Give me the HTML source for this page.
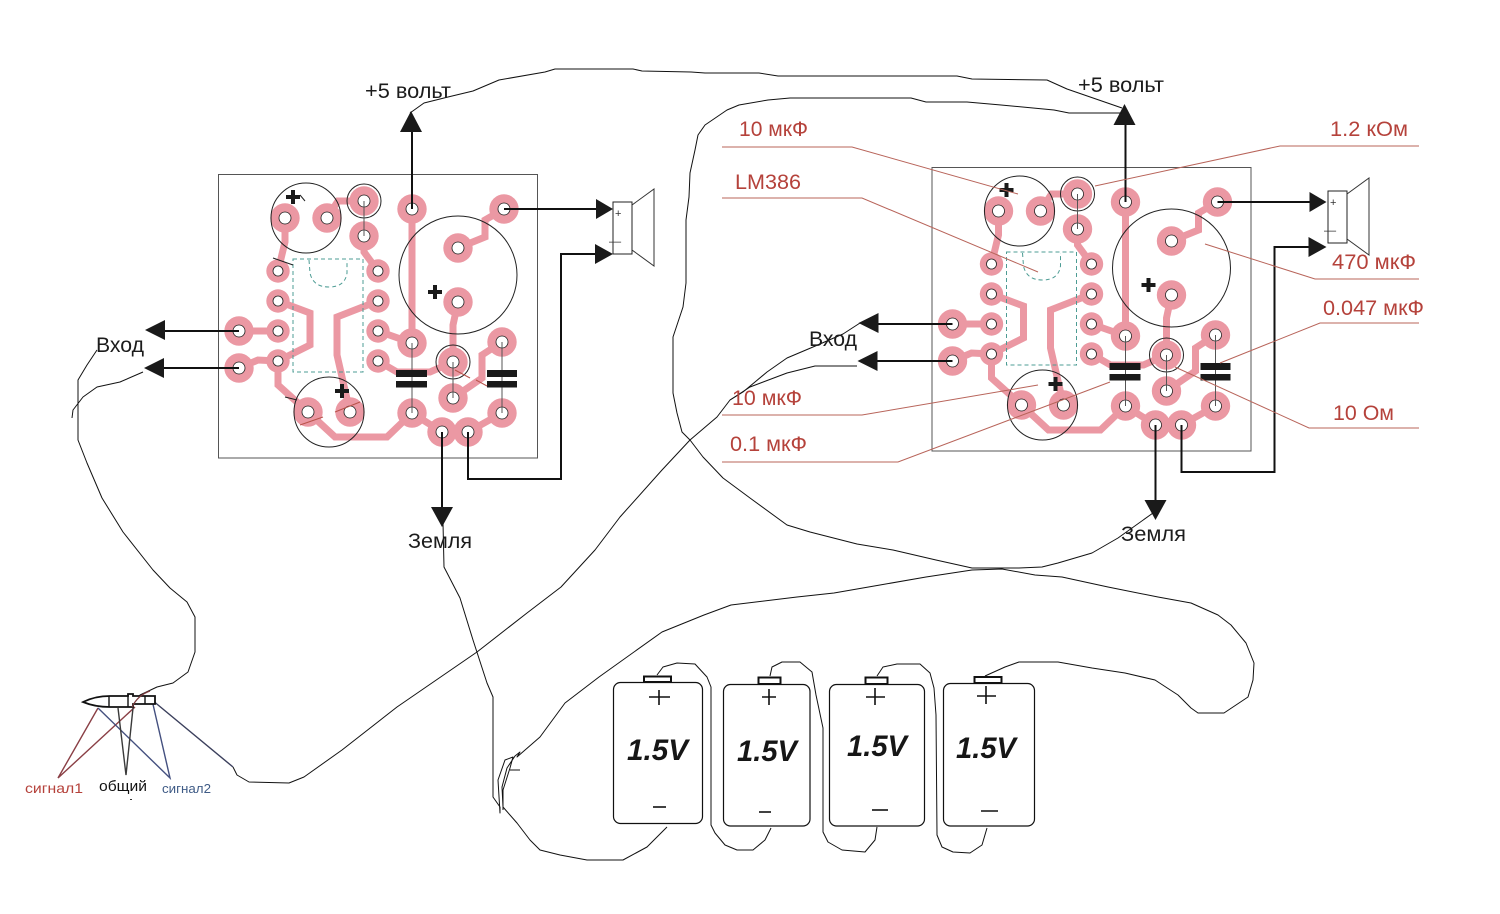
<!DOCTYPE html>
<html><head><meta charset="utf-8"><style>
html,body{margin:0;padding:0;background:#fff;width:1500px;height:914px;overflow:hidden}
svg{display:block}
text{font-family:"Liberation Sans",sans-serif}
.w{fill:none;stroke:#111;stroke-width:1;stroke-linejoin:round}
.l{fill:none;stroke:#b8645a;stroke-width:1}
.r{fill:#b5423b;font-size:21px}
.k{fill:#1c1c1c;font-size:21px}
.v{fill:#161616;font-size:30px;font-weight:bold;font-style:italic}
.bt{fill:#fff;stroke:#111;stroke-width:1.2}
.tm{fill:#fff;stroke:#111;stroke-width:2}
</style></head><body>
<svg xmlns="http://www.w3.org/2000/svg" width="1500" height="914" viewBox="0 0 1500 914">
<rect width="1500" height="914" fill="#fff"/>
<defs>
<g id="b">
<rect x="218.5" y="174.5" width="319" height="283.5" fill="none" stroke="#555" stroke-width="1"/>
<g fill="none" stroke="#eb98a3" stroke-width="7" stroke-linejoin="miter">
<polyline points="285,218 285,242 278,271"/>
<polyline points="327,218 338,201 364,201"/>
<polyline points="364,236 364,252 378,271"/>
<polyline points="412,209 412,343"/>
<polyline points="378,331 412,343"/>
<polyline points="378,361 397,372 430,372 453,362"/>
<polyline points="504,209 485,220 485,237 458,248"/>
<polyline points="458,302 453,325 453,362"/>
<polyline points="453,398 482,378 482,355 502,342"/>
<polyline points="278,301 310,313 310,345 278,361"/>
<polyline points="239,331 278,331"/>
<polyline points="239,368 258,360 278,361"/>
<polyline points="278,361 278,385 308,412"/>
<polyline points="308,412 335,437 387,437 412,413"/>
<polyline points="412,413 442,432 468,432 502,413"/>
<polyline points="378,301 337,317 337,355 350,412"/>
</g>
<g fill="#eb98a3">
<circle cx="285" cy="218" r="14.7"/><circle cx="327" cy="218" r="14.7"/><circle cx="364" cy="201" r="14.7"/><circle cx="364" cy="236" r="14.7"/>
<circle cx="412" cy="209" r="14.7"/><circle cx="504" cy="209" r="14.7"/><circle cx="458" cy="248" r="14.7"/><circle cx="458" cy="302" r="14.7"/>
<circle cx="239" cy="331" r="14.7"/><circle cx="239" cy="368" r="14.7"/><circle cx="412" cy="343" r="14.7"/><circle cx="502" cy="342" r="14.7"/>
<circle cx="453" cy="362" r="14.7"/><circle cx="453" cy="398" r="14.7"/><circle cx="308" cy="412" r="14.7"/><circle cx="350" cy="412" r="14.7"/>
<circle cx="412" cy="413" r="14.7"/><circle cx="502" cy="413" r="14.7"/><circle cx="442" cy="432" r="14.7"/><circle cx="468" cy="432" r="14.7"/>
<circle cx="278" cy="271" r="11.7"/><circle cx="278" cy="301" r="11.7"/><circle cx="278" cy="331" r="11.7"/><circle cx="278" cy="361" r="11.7"/>
<circle cx="378" cy="271" r="11.7"/><circle cx="378" cy="301" r="11.7"/><circle cx="378" cy="331" r="11.7"/><circle cx="378" cy="361" r="11.7"/>
</g>
<g fill="#fff" stroke="#222" stroke-width="0.8">
<circle cx="285" cy="218" r="6"/><circle cx="327" cy="218" r="6"/><circle cx="364" cy="201" r="6"/><circle cx="364" cy="236" r="6"/>
<circle cx="412" cy="209" r="6"/><circle cx="504" cy="209" r="6"/><circle cx="458" cy="248" r="6"/><circle cx="458" cy="302" r="6"/>
<circle cx="239" cy="331" r="6"/><circle cx="239" cy="368" r="6"/><circle cx="412" cy="343" r="6"/><circle cx="502" cy="342" r="6"/>
<circle cx="453" cy="362" r="6"/><circle cx="453" cy="398" r="6"/><circle cx="308" cy="412" r="6"/><circle cx="350" cy="412" r="6"/>
<circle cx="412" cy="413" r="6"/><circle cx="502" cy="413" r="6"/><circle cx="442" cy="432" r="6"/><circle cx="468" cy="432" r="6"/>
<circle cx="278" cy="271" r="5"/><circle cx="278" cy="301" r="5"/><circle cx="278" cy="331" r="5"/><circle cx="278" cy="361" r="5"/>
<circle cx="378" cy="271" r="5"/><circle cx="378" cy="301" r="5"/><circle cx="378" cy="331" r="5"/><circle cx="378" cy="361" r="5"/>
</g>
<g fill="none" stroke="#222" stroke-width="1">
<circle cx="306" cy="218" r="35"/><circle cx="364" cy="201" r="17"/><circle cx="458" cy="275" r="59"/><circle cx="453" cy="362" r="17"/><circle cx="329" cy="412" r="35"/>
</g>
<g fill="none" stroke="#4d9c94" stroke-width="1" stroke-dasharray="4 3">
<rect x="293" y="259" width="70" height="113"/>
<path d="M309,260 L310,273 Q313,287 329,287 Q345,287 347,273 L347,260"/>
</g>
<g stroke="#555" stroke-width="1">
<line x1="364" y1="201" x2="364" y2="236"/><line x1="412" y1="343" x2="412" y2="413"/><line x1="502" y1="342" x2="502" y2="413"/><line x1="453" y1="362" x2="453" y2="398"/>
</g>
<g fill="#1a1a1a">
<rect x="396" y="370" width="31" height="7"/><rect x="396" y="381" width="31" height="6.5"/>
<rect x="487" y="370" width="30" height="7"/><rect x="487" y="381" width="30" height="6.5"/>
<rect x="286" y="195" width="14" height="4"/><rect x="291" y="190" width="4" height="14"/>
<rect x="428" y="290" width="14" height="4"/><rect x="433" y="285" width="4" height="14"/>
<rect x="335" y="389" width="14" height="4"/><rect x="340" y="384" width="4" height="14"/>
</g>
<g fill="none" stroke="#111" stroke-width="2">
<line x1="412" y1="209" x2="412" y2="130"/>
<line x1="504" y1="209" x2="598" y2="209"/>
<polyline points="468,432 468,479 561,479 561,254 597,254"/>
<line x1="442" y1="432" x2="442" y2="510"/>
<line x1="239" y1="331" x2="163" y2="331"/>
<line x1="239" y1="368" x2="163" y2="368"/>
</g>
<g fill="#1a1a1a">
<polygon points="411,111 400,132 422,132"/>
<polygon points="613,209 596,199 596,219"/>
<polygon points="613,254 595,244 595,264"/>
<polygon points="442,527 431,507 453,507"/>
<polygon points="145,330 165,320 165,340"/>
<polygon points="144,368 164,358 164,378"/>
</g>
</g>
<g id="s">
<rect x="613" y="202" width="19" height="52" fill="#fff" stroke="#222" stroke-width="1"/>
<polyline points="632,205 654,189 654,266 632,250" fill="none" stroke="#333" stroke-width="1"/>
<text x="615" y="217" font-size="11" fill="#333">+</text>
<text x="609" y="245" font-size="11" fill="#333">–</text>
<text x="615" y="245" font-size="11" fill="#333">–</text>
</g>
</defs>

<use href="#b"/>
<use href="#b" transform="translate(713.5,-7)"/>
<use href="#s"/>
<use href="#s" transform="translate(715,-11)"/>

<!-- small red marks on left board -->
<g stroke="#b8534a" stroke-width="1" fill="none">
<line x1="300" y1="425" x2="323" y2="417"/><line x1="335" y1="412" x2="360" y2="402"/>
<line x1="476" y1="380" x2="487" y2="386"/><line x1="455" y1="370" x2="470" y2="378"/>
</g>
<g stroke="#222" stroke-width="1" fill="none">
<line x1="273" y1="258" x2="293" y2="265"/><line x1="285" y1="397" x2="297" y2="400"/>
<line x1="300" y1="195" x2="305" y2="201"/>
</g>

<!-- leader lines -->
<polyline class="l" points="722,147 852,147 1018,194"/>
<polyline class="l" points="722,198 862,198 1038,272"/>
<polyline class="l" points="1419,146 1280,146 1095,186"/>
<polyline class="l" points="1205,244 1315,279 1419,279"/>
<polyline class="l" points="1419,323 1320,323 1220,363"/>
<polyline class="l" points="1419,428 1309,428 1175,367"/>
<polyline class="l" points="722,415 862,415 1038,385"/>
<polyline class="l" points="722,462 898,462 1110,382"/>

<!-- wires -->
<polyline class="w" points="410,113 424,103 448,97 473,91 499,80 545,72 555,69 633,69 642,71 691,72 705,73 759,73 778,76 957,76 972,79 1047,80 1067,89 1122,108"/>
<polyline class="w" points="1122,113 1069,113 1054,110 1001,105 967,102 926,102 911,98 790,98 768,100 739,105 727,110 705,125 698,135 695,150 690,173 689,197 686,220 686,283 683,307 673,337 673,393 677,413 682,432 690,440 703,457 723,478 750,498 787,525 810,532 857,544 893,550 936,560 972,568 1019,568 1042,567 1058,563 1092,553 1118,538 1153,513"/>
<polyline class="w" points="667,827 647,847 623,860 587,860 560,855 540,850 530,840 517,823 503,807 502,787 507,768 515,756 520,752 517,757 540,737 565,703 599,677 662,632 704,615 731,605 797,597 834,593 880,585 926,577 972,570 1002,569 1035,575 1062,577 1108,587 1158,597 1191,603 1218,615 1231,625 1246,643 1254,663 1253,680 1248,697 1224,713 1198,713 1191,708 1178,695 1155,680 1125,673 1092,668 1058,662 1019,662 1005,667 985,676"/>
<polyline class="w" points="443,523 444,567 460,598 473,640 487,683 493,697 493,767 493,797 500,807 500,813 498,780 505,760 513,757 510,768 503,790 503,810"/>
<line class="w" x1="510" y1="770" x2="520" y2="770"/>
<polyline class="w" points="857,366 815,366 787,373 750,387 730,400 717,417 690,440 662,470 620,517 595,550 561,587 527,613 477,652 397,707 342,750 304,777 289,783 249,782 237,775 233,767"/>
<polyline class="w" points="860,323 843,334 813,347 787,358 767,372 743,392 730,400"/>
<polyline class="w" points="143,372 120,382 97,387 83,397 73,410 72,418"/>
<polyline class="w" points="97,350 87,365 78,380 78,440 87,463 102,498 123,532 153,570 170,588 187,602 195,617 195,652 188,672 173,683 157,687 140,695 132,707"/>

<!-- batteries -->
<rect class="bt" x="613.5" y="682.5" width="89" height="141" rx="7"/>
<rect class="tm" x="644" y="676.5" width="27" height="5.5"/>
<rect class="bt" x="723.5" y="684.5" width="86.5" height="141.5" rx="7"/>
<rect class="tm" x="758.5" y="677.5" width="22" height="6.5"/>
<rect class="bt" x="829.5" y="684.5" width="95" height="141.5" rx="7"/>
<rect class="tm" x="865.5" y="677.5" width="22" height="6.5"/>
<rect class="bt" x="943.5" y="683.5" width="91" height="142.5" rx="7"/>
<rect class="tm" x="974.5" y="677" width="27" height="6"/>
<g stroke="#111" stroke-width="1.6" fill="none">
<path d="M649,697H670M659,690V705"/><line x1="653" y1="807" x2="666" y2="807"/>
<path d="M762,697H776M769,689V705"/><line x1="759" y1="812" x2="771" y2="812"/>
<path d="M866,697H885M875,688V705"/><line x1="872" y1="810" x2="888" y2="810"/>
<path d="M977,696H996M986,686V704"/><line x1="981" y1="811" x2="998" y2="811"/>
</g>
<polyline class="w" points="657,675 663,667 677,663 695,664 707,677 711,687 711,825 715,833 725,845 737,850 753,850 765,840 771,828"/>
<polyline class="w" points="770,676 772,667 782,662 800,662 812,672 816,695 823,728 823,832 828,842 842,850 865,852 875,840 877,827"/>
<polyline class="w" points="877,676 883,667 897,664 920,664 930,673 934,688 936,715 937,835 942,847 953,852 970,853 982,845 987,828"/>
<text class="v" x="627" y="760" textLength="61" lengthAdjust="spacingAndGlyphs">1.5V</text>
<text class="v" x="737" y="761" textLength="60" lengthAdjust="spacingAndGlyphs">1.5V</text>
<text class="v" x="847" y="756" textLength="60" lengthAdjust="spacingAndGlyphs">1.5V</text>
<text class="v" x="956" y="758" textLength="60" lengthAdjust="spacingAndGlyphs">1.5V</text>

<!-- plug -->
<g fill="none" stroke-width="1.4">
<polyline points="98,708 58,778 135,707" stroke="#8a3f45"/>
<polyline points="98,708 170,778 152,700" stroke="#44507f"/>
<polyline points="152,700 233,767" stroke="#3b3f5c"/>
<polyline points="118,708 126,775 133,708" stroke="#3a3a3a"/>
</g>
<path d="M83,702 Q95,696 110,696 L128,696 L128,694 L133,694 L133,696 L155,696 L155,704 L133,704 L133,707 L128,707 L110,707 Q95,707 83,702Z" fill="#fff" stroke="#111" stroke-width="1.8"/>
<g stroke="#111" stroke-width="1.4"><line x1="109" y1="696" x2="109" y2="707"/><line x1="128" y1="695" x2="128" y2="707"/><line x1="145" y1="696" x2="145" y2="704"/></g>
<path d="M132,707 Q138,695 150,691" fill="none" stroke="#7c3a3d" stroke-width="1.2"/>
<rect x="130" y="799" width="2" height="1" fill="#333"/>
<text x="25" y="793" font-size="14" fill="#b5423b" textLength="58" lengthAdjust="spacingAndGlyphs">сигнал1</text>
<text x="99" y="791" font-size="15" fill="#111" textLength="48" lengthAdjust="spacingAndGlyphs">общий</text>
<text x="162" y="793" font-size="13" fill="#3f5b86" textLength="49" lengthAdjust="spacingAndGlyphs">сигнал2</text>

<!-- black labels -->
<text class="k" x="365" y="98" textLength="86" lengthAdjust="spacingAndGlyphs">+5 вольт</text>
<text class="k" x="1078" y="92" textLength="86" lengthAdjust="spacingAndGlyphs">+5 вольт</text>
<text class="k" x="96" y="352" textLength="48" lengthAdjust="spacingAndGlyphs">Вход</text>
<text class="k" x="809" y="346" textLength="48" lengthAdjust="spacingAndGlyphs">Вход</text>
<text class="k" x="408" y="548" textLength="64" lengthAdjust="spacingAndGlyphs">Земля</text>
<text class="k" x="1121" y="541" textLength="65" lengthAdjust="spacingAndGlyphs">Земля</text>

<!-- red labels -->
<text class="r" x="739" y="136" textLength="69" lengthAdjust="spacingAndGlyphs">10 мкФ</text>
<text class="r" x="735" y="189" textLength="66" lengthAdjust="spacingAndGlyphs">LM386</text>
<text class="r" x="1330" y="136" textLength="78" lengthAdjust="spacingAndGlyphs">1.2 кОм</text>
<text class="r" x="1332" y="269" textLength="84" lengthAdjust="spacingAndGlyphs">470 мкФ</text>
<text class="r" x="1323" y="315" textLength="101" lengthAdjust="spacingAndGlyphs">0.047 мкФ</text>
<text class="r" x="1333" y="420" textLength="61" lengthAdjust="spacingAndGlyphs">10 Ом</text>
<text class="r" x="732" y="405" textLength="70" lengthAdjust="spacingAndGlyphs">10 мкФ</text>
<text class="r" x="730" y="451" textLength="77" lengthAdjust="spacingAndGlyphs">0.1 мкФ</text>
</svg>
</body></html>
